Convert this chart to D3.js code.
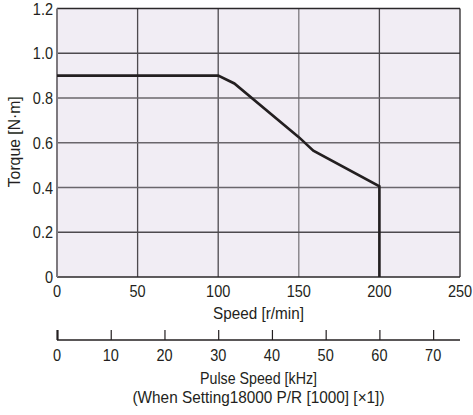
<!DOCTYPE html>
<html><head><meta charset="utf-8">
<script src="https://cdn.jsdelivr.net/npm/d3@7"></script>
<style>
html,body{margin:0;padding:0;background:#fff;}
text{font-family:"Liberation Sans Narrow","Liberation Sans",Arial,sans-serif;fill:#231f20;}
</style></head>
<body>
<svg id="c" width="473" height="415"></svg>
<script>
const speed  = [0, 100, 110, 150, 159, 200, 200];
const torque = [0.9, 0.9, 0.865, 0.625, 0.565, 0.405, 0];
const speedTicks = [0, 50, 100, 150, 200, 250];
const torqueTicks = [0, 0.2, 0.4, 0.6, 0.8, 1.0, 1.2];
const torqueLabels = ["0", "0.2", "0.4", "0.6", "0.8", "1.0", "1.2"];
const pulseTicks = [0, 10, 20, 30, 40, 50, 60, 70];
const xTitle = "Speed [r/min]";
const yTitle = "Torque [N·m]";
const pTitle1 = "Pulse Speed [kHz]";
const pTitle2 = "(When Setting18000 P/R [1000] [×1])";

const L = 57, R = 460, T = 8.5, B = 277;
const svg = d3.select("#c");
const x = d3.scaleLinear().domain([0, 250]).range([L, R]);
const y = d3.scaleLinear().domain([0, 1.2]).range([B, T]);
const xp = d3.scaleLinear().domain([0, 75]).range([L, R]);
const FS = 16.5, SX = 0.88;

// condensed text helper
function label(g, tx, ty, str, anchor, rot, len) {
  const t = g.append("text")
    .attr("transform", `translate(${tx},${ty})${rot ? " rotate(" + rot + ")" : ""}${len ? "" : " scale(" + SX + ",1)"}`)
    .attr("text-anchor", anchor).attr("font-size", FS).text(str);
  if (len) t.attr("textLength", len).attr("lengthAdjust", "spacingAndGlyphs");
  return t;
}

svg.append("rect").attr("x", L).attr("y", T).attr("width", R - L).attr("height", B - T).attr("fill", "#f1edf4");

// grid
const gridCol = "#4d4a4e";
svg.append("g").selectAll("line").data(speedTicks.slice(1, -1)).join("line")
  .attr("x1", d => x(d)).attr("x2", d => x(d)).attr("y1", T).attr("y2", B)
  .attr("stroke", d => d === 150 ? "#7d797e" : gridCol).attr("stroke-width", 1.3);
svg.append("g").selectAll("line").data(torqueTicks.slice(1, -1)).join("line")
  .attr("x1", L).attr("x2", R).attr("y1", d => y(d)).attr("y2", d => y(d))
  .attr("stroke", d => (d === 0.6 || d === 0.8 || d === 0.4) ? "#6a666b" : gridCol).attr("stroke-width", 1.3);

// border
svg.append("line").attr("x1", L).attr("x2", R).attr("y1", T).attr("y2", T).attr("stroke", "#2a2729").attr("stroke-width", 1.3);
svg.append("line").attr("x1", R).attr("x2", R).attr("y1", T).attr("y2", B).attr("stroke", "#2a2729").attr("stroke-width", 1.3);
svg.append("line").attr("x1", L).attr("x2", R).attr("y1", B).attr("y2", B).attr("stroke", "#2a2729").attr("stroke-width", 1.3);
svg.append("line").attr("x1", L).attr("x2", L).attr("y1", T).attr("y2", B).attr("stroke", "#7d797e").attr("stroke-width", 2);

// curve
const pts = speed.map((s, i) => [s, torque[i]]);
svg.append("path").datum(pts)
  .attr("d", d3.line().x(d => x(d[0])).y(d => y(d[1])))
  .attr("fill", "none").attr("stroke", "#231f20").attr("stroke-width", 2.6).attr("stroke-linejoin", "miter");

// y axis labels
const gy = svg.append("g");
torqueTicks.forEach((d, i) => label(gy, 53, y(d) + 6, torqueLabels[i], "end"));
label(svg, 20, (T + B) / 2 - 1, yTitle, "middle", -90, 91);

// x axis labels
const gx = svg.append("g");
speedTicks.forEach(d => label(gx, x(d), 297, String(d), "middle"));
label(svg, (L + R) / 2, 319, xTitle, "middle", 0, 91);

// pulse axis
const pa = svg.append("g").attr("transform", "translate(0,340)");
pa.call(d3.axisTop(xp).tickValues(pulseTicks).tickSize(10).tickFormat(""));
pa.select(".domain").attr("d", `M${L},0H${R}`).attr("stroke", "#231f20").attr("stroke-width", 1.3);
pa.selectAll(".tick line").attr("stroke", "#231f20").attr("stroke-width", (d) => d === 0 ? 2.2 : 1.2);
const gp = svg.append("g");
pulseTicks.forEach(d => label(gp, xp(d), 361, String(d), "middle"));
label(svg, (L + R) / 2, 384, pTitle1, "middle", 0, 117);
label(svg, (L + R) / 2, 403, pTitle2, "middle", 0, 252);
</script>
</body></html>
